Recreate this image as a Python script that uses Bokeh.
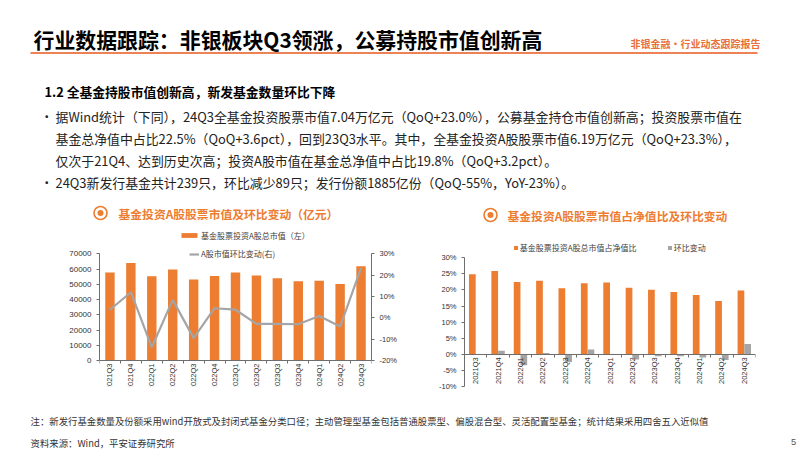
from math import pi
from bokeh.plotting import figure
from bokeh.models import (Range1d, LinearAxis, FixedTicker, PrintfTickFormatter, CustomJSTickFormatter,
                          BasicTickFormatter, Label, Legend, LegendItem, ColumnDataSource)
from bokeh.layouts import column, row
from bokeh.transform import dodge
from bokeh.core.properties import value
from bokeh.embed import file_html
from bokeh.resources import INLINE

# ---------------- data ----------------
cats = ["2021Q3", "2021Q4", "2022Q1", "2022Q2", "2022Q3", "2022Q4", "2023Q1",
        "2023Q2", "2023Q3", "2023Q4", "2024Q1", "2024Q2", "2024Q3"]
a_share_mv = [57700, 64000, 55300, 59700, 53100, 55500, 57700, 55700, 54000, 52000, 52400, 50200, 61900]
a_share_qoq = [3.8, 12.0, -13.8, 8.4, -9.5, 4.5, 3.8, -2.8, -2.8, -3.0, 0.9, -4.1, 23.3]
nav_ratio = [24.9, 25.9, 22.5, 22.9, 20.5, 22.1, 22.3, 20.7, 20.1, 19.4, 18.4, 16.6, 19.8]
nav_ratio_chg = [-0.2, 1.1, -3.4, 0.4, -2.4, 1.5, 0.1, -1.6, -0.6, -0.6, -1.0, -1.8, 3.2]

mv_ticks = [0, 10000, 20000, 30000, 40000, 50000, 60000, 70000]
qoq_ticks = [-20, -10, 0, 10, 20, 30]
ratio_ticks = [-10, -5, 0, 5, 10, 15, 20, 25, 30]

title_text = "行业数据跟踪：非银板块Q3领涨，公募持股市值创新高"
tag_text = "非银金融·行业动态跟踪报告"
heading_text = "1.2 全基金持股市值创新高，新发基金数量环比下降"
body_lines = [
    "据Wind统计（下同），24Q3全基金投资股票市值7.04万亿元（QoQ+23.0%），公募基金持仓市值创新高；投资股票市值在",
    "基金总净值中占比22.5%（QoQ+3.6pct），回到23Q3水平。其中，全基金投资A股股票市值6.19万亿元（QoQ+23.3%），",
    "仅次于21Q4、达到历史次高；投资A股市值在基金总净值中占比19.8%（QoQ+3.2pct）。",
    "24Q3新发行基金共计239只，环比减少89只；发行份额1885亿份（QoQ-55%，YoY-23%）。",
]
bullet_flags = [True, False, False, True]
chart1_title = "基金投资A股股票市值及环比变动（亿元）"
chart2_title = "基金投资A股股票市值占净值比及环比变动"
leg_mv = "基金股票投资A股总市值（左）"
leg_qoq = "A股市值环比变动(右)"
leg_ratio = "基金股票投资A股总市值占净值比"
leg_chg = "环比变动"
note_text = "注：新发行基金数量及份额采用wind开放式及封闭式基金分类口径；主动管理型基金包括普通股票型、偏股混合型、灵活配置型基金；统计结果采用四舍五入近似值"
source_text = "资料来源：Wind，平安证券研究所"
page_no = "5"

CJK = "Noto Sans CJK SC"
LAT = "Liberation Sans"
ORANGE = "#ED7D31"
GRAY = "#A5A5A5"
AXIS = "#6E6E6E"
TXT = "#333333"

n = len(cats)
slot = [i + 0.5 for i in range(n)]          # category slot centres on the index scale
bounds = list(range(n + 1))                  # category boundaries


def canvas(w, h, x0, y0):
    p = figure(width=w, height=h, x_range=Range1d(x0, x0 + w), y_range=Range1d(y0 + h, y0),
               output_backend="svg", toolbar_location=None, min_border=0, title=None,
               x_axis_location=None, y_axis_location=None)
    p.grid.visible = False
    p.outline_line_color = None
    return p


def txt(p, x, y, s, size, color="#000000", font=CJK, bold=False, align="left"):
    p.add_layout(Label(x=x, y=y, text=s, text_font=font, text_font_size=f"{size}px",
                       text_color=color, text_baseline="middle", text_align=align,
                       text_font_style="bold" if bold else "normal"))


def style_axis(ax, size="8px", ticks_out=3):
    ax.axis_line_color = AXIS
    ax.major_tick_line_color = AXIS
    ax.major_tick_out = ticks_out
    ax.major_tick_in = 0
    ax.minor_tick_line_color = None
    ax.major_label_text_font = LAT
    ax.major_label_text_font_size = size
    ax.major_label_text_color = TXT


def chart(width, y_range, border_left, border_right):
    p = figure(width=width, height=182, x_range=Range1d(0, n), y_range=y_range,
               output_backend="svg", toolbar_location=None, title=None, x_axis_location=None,
               min_border_left=border_left, min_border_right=border_right,
               min_border_top=0, min_border_bottom=24)
    p.grid.visible = False
    p.outline_line_color = None
    return p


def category_axis(p, src):
    # zero line with ticks between categories
    tk = LinearAxis(ticker=FixedTicker(ticks=bounds), fixed_location=0,
                    formatter=CustomJSTickFormatter(code="return '';"))
    style_axis(tk)
    tk.major_label_standoff = 0
    p.add_layout(tk, "below")
    # category labels hanging below the zero line
    p.text(x="x", y=0, text="cat", source=src, angle=pi / 2, text_align="right",
           text_baseline="middle", y_offset=3, text_font=value(LAT),
           text_font_size=value("7.5px"), text_color=TXT)


def mk_legend(item_label, rend, loc, gw, gh):
    return Legend(items=[LegendItem(label=item_label, renderers=[rend])], location=loc,
                  orientation="horizontal", padding=0, margin=0, spacing=0,
                  border_line_color=None, background_fill_alpha=0,
                  glyph_width=gw, glyph_height=gh, label_standoff=2, label_height=12,
                  label_text_font=CJK, label_text_font_size="8px", label_text_color="#404040")


# ---------------- header (page y 0..228) ----------------
head = canvas(802, 228, 0, 0)
txt(head, 33, 38, title_text, 20.9, bold=True)
txt(head, 630, 43, tag_text, 10, color="#E8703A", bold=True)
head.segment(x0=[30], y0=[52.5], x1=[757], y1=[52.5], line_color="#EC8256", line_width=2)
txt(head, 44, 91, heading_text, 12.8, bold=True)
for i, (line, flag) in enumerate(zip(body_lines, bullet_flags)):
    y = 116 + 22 * i
    if flag:
        txt(head, 40, y, "•", 12.5, color="#222222")
    txt(head, 55, y, line, 12.9, color="#222222")
for cx, tx, ty, t in [(100, 118, 212.5, chart1_title), (490, 507, 214.5, chart2_title)]:
    head.scatter([cx], [ty], size=13, fill_color=None, line_color=ORANGE, line_width=1.6)
    head.scatter([cx], [ty], size=6, fill_color=ORANGE, line_color=None)
    txt(head, tx, ty, t, 11.8, color=ORANGE, bold=True)

# ---------------- left chart (page x 0..400; frame x 99..373, y 228..386; zero at 360) ----------------
lsrc = ColumnDataSource(dict(x=slot, mv=a_share_mv, qoq=a_share_qoq, cat=cats))
left = chart(400, Range1d(-17060, 86600), 99, 27)
left.extra_y_ranges = {"pct": Range1d(-32.18, 41.86)}

bars = left.vbar(x="x", top="mv", width=0.45, source=lsrc, fill_color=ORANGE, line_color=None)
qline = left.line(x="x", y="qoq", source=lsrc, y_range_name="pct", line_color=GRAY, line_width=2.2)
category_axis(left, lsrc)

ya = left.yaxis[0]
style_axis(ya, "8px")
ya.ticker = FixedTicker(ticks=mv_ticks)
ya.formatter = BasicTickFormatter(use_scientific=False)
ya.bounds = (mv_ticks[0], mv_ticks[-1])
ya.major_label_standoff = 5

ra = LinearAxis(y_range_name="pct", ticker=FixedTicker(ticks=qoq_ticks),
                formatter=PrintfTickFormatter(format="%d%%"))
style_axis(ra, "7.5px")
ra.bounds = (qoq_ticks[0], qoq_ticks[-1])
ra.major_label_standoff = 5
left.add_layout(ra, "right")

left.add_layout(mk_legend(leg_mv, bars, (80, 145), 20, 6))
left.add_layout(mk_legend(leg_qoq, qline, (90, 126.5), 10, 12))

# ---------------- right chart (page x 400..802; frame x 464..755, y 228..386) ----------------
rsrc = ColumnDataSource(dict(x=slot, ratio=nav_ratio, chg=nav_ratio_chg, cat=cats))
right = chart(402, Range1d(-10, 39.1), 64, 47)

rb1 = right.vbar(x=dodge("x", -0.15), top="ratio", width=0.3, source=rsrc,
                 fill_color=ORANGE, line_color=None)
rb2 = right.vbar(x=dodge("x", 0.15), top="chg", width=0.3, source=rsrc,
                 fill_color=GRAY, line_color=None)
category_axis(right, rsrc)

ry = right.yaxis[0]
style_axis(ry, "7.5px")
ry.ticker = FixedTicker(ticks=ratio_ticks)
ry.formatter = PrintfTickFormatter(format="%d%%")
ry.bounds = (ratio_ticks[0], ratio_ticks[-1])
ry.major_label_standoff = 5

right.add_layout(mk_legend(leg_ratio, rb1, (48.7, 132.7), 5, 5))
right.add_layout(mk_legend(leg_chg, rb2, (202.7, 132.7), 5, 5))

# ---------------- footer (page y 410..451) ----------------
foot = canvas(802, 41, 0, 410)
txt(foot, 30, 420, note_text, 9.4, color="#333333")
txt(foot, 30, 442, source_text, 9.4, color="#333333")
txt(foot, 793, 441, page_no, 9.4, color="#555555", font=LAT, align="center")

layout = column(head, row(left, right, spacing=0), foot, spacing=0)
open("out.html", "w").write(file_html(layout, INLINE))
